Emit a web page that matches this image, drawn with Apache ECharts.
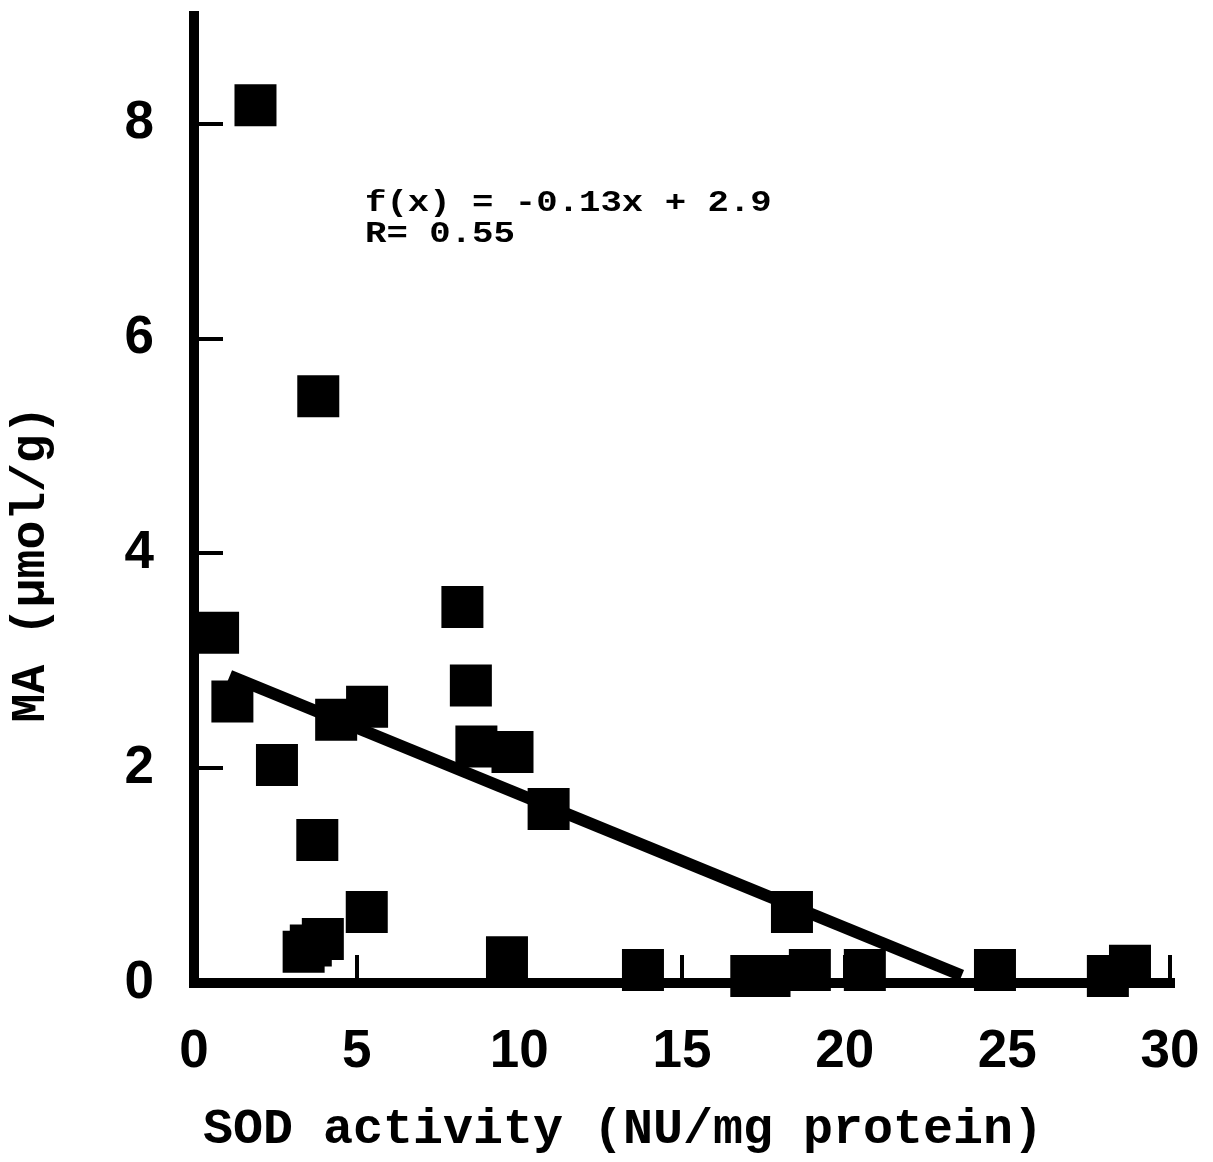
<!DOCTYPE html>
<html>
<head>
<meta charset="utf-8">
<script src="https://cdn.jsdelivr.net/npm/echarts@6/dist/echarts.min.js"></script>
<style>
html,body{margin:0;padding:0;background:#fff;}
#chart{width:1213px;height:1162px;}
</style>
</head>
<body>
<div id="chart"></div>
<script>
// SOD activity (x) vs MA (y) observations
const sodValues = [1.89, 3.82, 0.74, 1.18, 2.55, 4.37, 5.32, 8.25, 8.51, 8.68, 9.79, 10.9, 3.79, 5.31, 3.37, 3.59, 3.96, 9.62, 18.38, 13.80, 17.13, 17.69, 18.93, 20.62, 24.62, 28.09, 28.77];
const maValues  = [8.17, 5.46, 3.26, 2.62, 2.03, 2.45, 2.57, 3.50, 2.77, 2.20, 2.15, 1.62, 1.33, 0.66, 0.29, 0.35, 0.41, 0.24, 0.66, 0.12, 0.065, 0.065, 0.12, 0.12, 0.12, 0.065, 0.16];
// regression line end points as drawn
const fitX = [1.1, 23.6];
const fitY = [2.86, 0.07];
const xTicks = [0, 5, 10, 15, 20, 25, 30];
const yTicks = [0, 2, 4, 6, 8];
const xTitle = 'SOD activity (NU/mg protein)';
const yTitle = 'MA (\u00b5mol/g)';
const fitText = 'f(x) = -0.13x + 2.9\nR= 0.55';

const points = sodValues.map((x, i) => [x, maValues[i]]);
const fitLine = fitX.map((x, i) => [x, fitY[i]]);

const chart = echarts.init(document.getElementById('chart'), null, {renderer: 'canvas'});
const tickFont = {color: '#000', fontFamily: 'Liberation Sans', fontWeight: 'bold', fontSize: 53};
const axisLineStyle = {color: '#000', width: 10, cap: 'square'};
chart.setOption({
  animation: false,
  backgroundColor: '#fff',
  grid: {left: 193, right: 43, top: 16, bottom: 179, containLabel: false},
  xAxis: {
    type: 'value', min: xTicks[0], max: xTicks[xTicks.length - 1], interval: 5,
    axisLine: {show: true, lineStyle: axisLineStyle},
    axisTick: {show: true, inside: true, length: 28, lineStyle: {color: '#000', width: 4}},
    axisLabel: Object.assign({margin: 43}, tickFont),
    splitLine: {show: false},
    name: xTitle, nameLocation: 'middle', nameGap: 122,
    nameTextStyle: {color: '#000', fontFamily: 'Liberation Mono', fontWeight: 'bold', fontSize: 50, padding: [0, 118, 0, 0]}
  },
  yAxis: {
    type: 'value', min: 0, max: 9,
    axisLine: {show: true, lineStyle: axisLineStyle},
    axisTick: {show: true, inside: true, length: 29, lineStyle: {color: '#000', width: 4}, customValues: yTicks},
    axisLabel: Object.assign({margin: 40, customValues: yTicks}, tickFont),
    splitLine: {show: false},
    name: yTitle, nameLocation: 'middle', nameGap: 138,
    nameTextStyle: {color: '#000', fontFamily: 'Liberation Mono', fontWeight: 'bold', fontSize: 48, padding: [0, 129, 0, 0]}
  },
  graphic: [{
    type: 'text', x: 365, y: 188, scaleX: 1.23,
    style: {text: fitText, fill: '#000', font: 'bold 29px "Liberation Mono"', lineHeight: 31, textVerticalAlign: 'top'}
  }],
  series: [
    {type: 'line', data: fitLine, symbol: 'none', z: 2,
     lineStyle: {color: '#000', width: 12}},
    {type: 'scatter', data: points, symbol: 'rect', symbolSize: 42, z: 3,
     itemStyle: {color: '#000', opacity: 1}}
  ]
});
</script>
</body>
</html>
